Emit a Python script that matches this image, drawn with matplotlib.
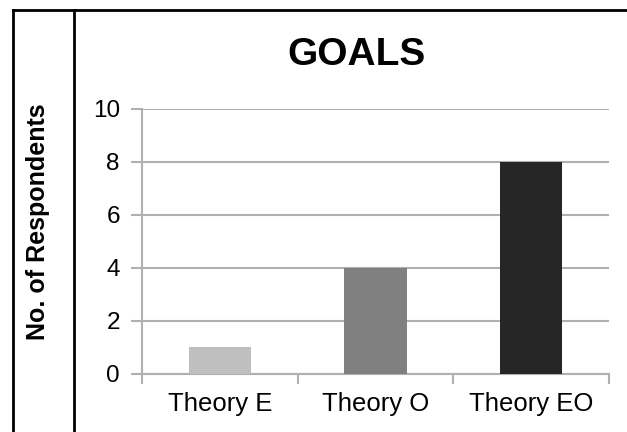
import matplotlib.pyplot as plt
from matplotlib.lines import Line2D

categories = ['Theory E', 'Theory O', 'Theory EO']
respondents = [1, 4, 8]
bar_colors = ['#bfbfbf', '#808080', '#262626']
y_ticks = [0, 2, 4, 6, 8, 10]

plt.rcParams['font.family'] = ['Liberation Sans', 'DejaVu Sans']

fig = plt.figure(figsize=(6.27, 4.32), dpi=100)
ax = fig.add_axes([0.2265, 0.1343, 0.7448, 0.6134])

x = list(range(len(categories)))
ax.bar(x, respondents, width=0.4, color=bar_colors, zorder=3)

ax.set_xlim(-0.5, len(categories) - 0.5)
ax.set_ylim(0, 10)
ax.set_yticks(y_ticks)
ax.tick_params(axis='y', labelsize=17.5, length=8, width=1.5, color='#b0b0b0', pad=8)
ax.yaxis.grid(True, color='#b0b0b0', linewidth=1.5, zorder=0)

# category boundaries as ticks, labels on minor ticks
ax.set_xticks([i - 0.5 for i in range(len(categories) + 1)])
ax.set_xticklabels([])
ax.set_xticks(x, minor=True)
ax.set_xticklabels(categories, minor=True)
ax.tick_params(axis='x', which='major', length=7, width=1.5, color='#b0b0b0')
ax.tick_params(axis='x', which='minor', length=0, labelsize=18.5, pad=13)

for side in ['top', 'right']:
    ax.spines[side].set_visible(False)
for side in ['left', 'bottom']:
    ax.spines[side].set_color('#b0b0b0')
    ax.spines[side].set_linewidth(1.5)

fig.text(0.569, 0.873, 'GOALS', fontsize=28, fontweight='bold', ha='center', va='center')
fig.text(0.0606, 0.486, 'No. of Respondents', fontsize=18, fontweight='bold',
         rotation=90, ha='center', va='center')

# table-like frame lines
fig.add_artist(Line2D([0.0207, 1.0], [0.977, 0.977], color='black', linewidth=2))
fig.add_artist(Line2D([0.0207, 0.0207], [0.0, 0.977], color='black', linewidth=2))
fig.add_artist(Line2D([0.118, 0.118], [0.0, 0.977], color='black', linewidth=2))

plt.savefig('out.png', dpi=100)
